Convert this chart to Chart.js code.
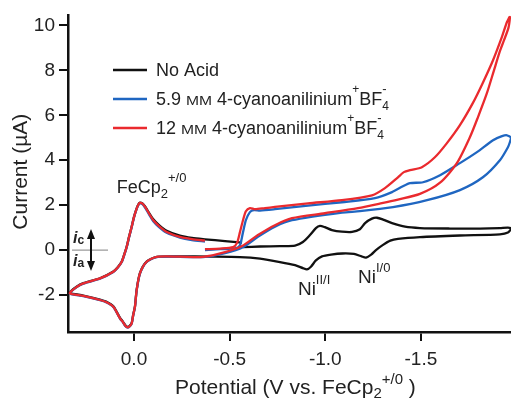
<!DOCTYPE html>
<html><head><meta charset="utf-8">
<script src="https://cdn.jsdelivr.net/npm/chart.js@4.4.1/dist/chart.umd.min.js"></script>
<style>html,body{margin:0;padding:0;background:#fff;}canvas{display:block;}</style>
</head><body>
<canvas id="c" width="511" height="399"></canvas>
<script>
// ---- data (potential in V vs FeCp2+/0, current in µA), in scan order ----
const xTicks = [0, -0.5, -1.0, -1.5];
const yTicks = [-2, 0, 2, 4, 6, 8, 10];
const seriesNames = ["No Acid", "5.9 mM 4-cyanoanilinium+BF4-", "12 mM 4-cyanoanilinium+BF4-"];

const noAcidV = [-0.570,-0.659,-0.763,-0.842,-0.883,-0.920,-0.951,-0.972,-0.998,-1.035,-1.087,-1.140,-1.181,-1.208,-1.244,-1.270,-1.302,-1.349,-1.417,-1.495,-1.652,-1.809,-1.913,-1.955,-1.971,
 -1.955,-1.913,-1.704,-1.495,-1.380,-1.340,-1.300,-1.265,-1.240,-1.213,-1.190,-1.150,-1.090,-1.030,-0.983,-0.951,-0.925,-0.904,-0.883,-0.842,-0.763,-0.659,-0.554,-0.397,
 -0.240,-0.119,-0.066,-0.031,-0.014,-0.005,0.005,0.012,0.024,0.033,0.044,0.058,0.073,0.108,0.146,0.178,0.265,0.335,
 0.300,0.265,0.178,0.108,0.084,0.064,0.050,0.038,0.026,0.012,0.0,-0.014,-0.024,-0.031,-0.044,-0.058,-0.078,-0.101,-0.131,-0.171,-0.240,-0.303,-0.371,-0.476,-0.565];
const noAcidI = [0.13,0.16,0.18,0.20,0.36,0.67,0.98,1.08,1.02,0.89,0.82,0.81,0.93,1.20,1.40,1.44,1.36,1.20,1.04,0.98,0.96,0.96,0.98,1.00,0.96,
 0.78,0.70,0.65,0.58,0.50,0.42,0.22,0.00,-0.20,-0.33,-0.28,-0.17,-0.15,-0.20,-0.28,-0.46,-0.74,-0.86,-0.80,-0.67,-0.53,-0.38,-0.31,-0.29,
 -0.28,-0.30,-0.51,-1.02,-1.76,-2.50,-2.91,-3.24,-3.38,-3.42,-3.36,-3.18,-3.02,-2.50,-2.29,-2.20,-2.02,-1.90,
 -1.63,-1.47,-1.25,-0.95,-0.75,-0.51,-0.17,0.16,0.59,1.05,1.48,1.86,2.05,2.11,2.08,1.94,1.67,1.37,1.11,0.86,0.64,0.54,0.48,0.40,0.33];

const acid59V = [-0.371,-0.450,-0.533,-0.554,-0.570,-0.585,-0.606,-0.627,-0.659,-0.737,-0.910,-1.087,-1.260,-1.349,-1.406,-1.443,-1.511,-1.600,-1.704,-1.793,-1.877,-1.924,-1.950,-1.971,
 -1.965,-1.955,-1.913,-1.824,-1.704,-1.532,-1.354,-1.181,-1.087,-0.826,-0.737,-0.648,-0.570,-0.476,
 -0.361,-0.240,-0.119,-0.066,-0.031,-0.014,-0.005,0.005,0.012,0.024,0.033,0.044,0.058,0.073,0.108,0.146,0.178,0.265,0.335,
 0.300,0.265,0.178,0.108,0.084,0.064,0.050,0.038,0.026,0.012,0.0,-0.014,-0.024,-0.031,-0.044,-0.058,-0.078,-0.101,-0.131,-0.171,-0.240,-0.303,-0.371];
const acid59I = [0.00,0.04,0.09,0.22,0.80,1.33,1.69,1.78,1.76,1.82,1.98,2.13,2.31,2.58,2.84,2.98,3.02,3.33,3.87,4.36,4.89,5.07,5.11,5.00,
 4.80,4.58,4.00,3.24,2.67,2.22,1.91,1.73,1.67,1.33,1.04,0.59,0.13,-0.13,
 -0.31,-0.30,-0.31,-0.53,-1.06,-1.80,-2.54,-2.95,-3.27,-3.41,-3.45,-3.39,-3.21,-3.05,-2.53,-2.32,-2.23,-2.05,-1.93,
 -1.65,-1.49,-1.27,-0.97,-0.77,-0.53,-0.20,0.13,0.56,1.02,1.45,1.83,2.02,2.08,2.05,1.89,1.60,1.28,1.02,0.77,0.56,0.45,0.38];

const acid12V = [-0.371,-0.450,-0.518,-0.538,-0.554,-0.570,-0.585,-0.606,-0.633,-0.685,-0.737,-0.910,-1.087,-1.244,-1.312,-1.380,-1.411,-1.443,-1.505,-1.573,-1.636,-1.704,-1.772,-1.824,-1.877,-1.924,-1.950,-1.965,
 -1.958,-1.934,-1.913,-1.882,-1.845,-1.798,-1.756,-1.688,-1.600,-1.495,-1.380,-1.296,-1.171,-0.998,-0.826,-0.737,-0.648,-0.565,-0.476,
 -0.361,-0.240,-0.119,-0.066,-0.031,-0.014,-0.005,0.005,0.012,0.024,0.033,0.044,0.058,0.073,0.108,0.146,0.178,0.265,0.335,
 0.300,0.265,0.178,0.108,0.084,0.064,0.050,0.038,0.026,0.012,0.0,-0.014,-0.024,-0.031,-0.044,-0.058,-0.078,-0.101,-0.131,-0.171,-0.240,-0.303,-0.371];
const acid12I = [0.04,0.07,0.13,0.31,0.80,1.33,1.73,1.87,1.82,1.87,1.92,2.08,2.22,2.44,2.76,3.24,3.47,3.56,3.69,4.13,4.76,5.56,6.55,7.45,8.45,9.50,10.15,10.38,
 9.90,9.33,8.85,8.00,6.98,5.91,5.02,3.87,3.00,2.50,2.25,2.09,1.87,1.64,1.42,1.11,0.67,0.18,-0.09,
 -0.30,-0.29,-0.30,-0.52,-1.04,-1.78,-2.52,-2.93,-3.26,-3.40,-3.44,-3.38,-3.20,-3.04,-2.52,-2.31,-2.22,-2.04,-1.92,
 -1.64,-1.48,-1.26,-0.96,-0.76,-0.52,-0.18,0.15,0.58,1.04,1.47,1.85,2.04,2.10,2.07,1.92,1.64,1.33,1.07,0.81,0.59,0.49,0.42];

const colors = ['#111111', '#1f66c1', '#ea2a2e'];
const FONT = '"Liberation Sans", Arial, Helvetica, sans-serif';
const TXT = '#222222';

const toPts = (V, I) => V.map((v, k) => ({x: v, y: I[k]}));
const series = [toPts(noAcidV, noAcidI), toPts(acid59V, acid59I), toPts(acid12V, acid12I)];

function f(size, style) { return (style || '') + ' ' + size + 'px ' + FONT; }
function drawRuns(ctx, x, y, runs) {
  ctx.textAlign = 'left'; ctx.textBaseline = 'alphabetic';
  for (const r of runs) {
    ctx.font = f(r.s, r.st);
    const w = ctx.measureText(r.t).width * (r.sx || 1);
    ctx.save();
    ctx.translate(x, y + (r.dy || 0));
    if (r.sx) ctx.scale(r.sx, 1);
    ctx.fillText(r.t, 0, 0);
    ctx.restore();
    if (!r.stack) x += w;
  }
  return x;
}
function acidRuns(conc) {
  return [{t: conc + ' ', s: 18}, {t: 'MM', s: 12.5, sx: 1.25}, {t: ' 4-cyanoanilinium', s: 18},
          {t: '+', s: 12, dy: -12}, {t: 'BF', s: 18}, {t: '4', s: 12, dy: 5, stack: true}, {t: '-', s: 13, dy: -12}];
}

const decor = {
  id: 'decor',
  afterDraw(chart) {
    const ctx = chart.ctx, xs = chart.scales.x, ys = chart.scales.y;
    ctx.save();
    // legend
    const legY = [70, 99, 128];
    const legRuns = [[{t: seriesNames[0], s: 18}], acidRuns('5.9'), acidRuns('12')];
    legY.forEach((ly, k) => {
      ctx.strokeStyle = colors[k]; ctx.lineWidth = 2.5;
      ctx.beginPath(); ctx.moveTo(113, ly); ctx.lineTo(147, ly); ctx.stroke();
      ctx.fillStyle = TXT;
      drawRuns(ctx, 156, ly + 5.5, legRuns[k]);
    });
    // peak labels
    ctx.fillStyle = TXT;
    drawRuns(ctx, xs.getPixelForValue(0.090), ys.getPixelForValue(2.53),
      [{t: 'FeCp', s: 18}, {t: '2', s: 13, dy: 5}, {t: '+/0', s: 13, dy: -11}]);
    drawRuns(ctx, xs.getPixelForValue(-0.857), ys.getPixelForValue(-2.0),
      [{t: 'Ni', s: 19}, {t: 'II/I', s: 13, dy: -11}]);
    drawRuns(ctx, xs.getPixelForValue(-1.171), ys.getPixelForValue(-1.47),
      [{t: 'Ni', s: 19}, {t: 'I/0', s: 13, dy: -11}]);
    // ic / ia indicator
    const y0 = ys.getPixelForValue(0);
    ctx.strokeStyle = '#808080'; ctx.lineWidth = 1;
    ctx.beginPath(); ctx.moveTo(72, y0); ctx.lineTo(108, y0); ctx.stroke();
    ctx.strokeStyle = '#111'; ctx.fillStyle = '#111'; ctx.lineWidth = 2;
    ctx.beginPath(); ctx.moveTo(91, y0 - 14); ctx.lineTo(91, y0 + 14); ctx.stroke();
    ctx.beginPath(); ctx.moveTo(91, y0 - 21); ctx.lineTo(87, y0 - 11); ctx.lineTo(95, y0 - 11); ctx.closePath(); ctx.fill();
    ctx.beginPath(); ctx.moveTo(91, y0 + 21); ctx.lineTo(87, y0 + 11); ctx.lineTo(95, y0 + 11); ctx.closePath(); ctx.fill();
    ctx.fillStyle = TXT;
    drawRuns(ctx, 73, y0 - 7, [{t: 'i', s: 16, st: 'italic bold'}, {t: 'c', s: 12, st: 'bold', dy: 1}]);
    drawRuns(ctx, 73, y0 + 16, [{t: 'i', s: 16, st: 'italic bold'}, {t: 'a', s: 12, st: 'bold', dy: 1}]);
    // axis titles
    ctx.fillStyle = TXT;
    ctx.save();
    ctx.translate(27, (chart.chartArea.top + chart.chartArea.bottom) / 2 - 2);
    ctx.rotate(-Math.PI / 2);
    ctx.font = f(21); ctx.textAlign = 'center'; ctx.textBaseline = 'alphabetic';
    ctx.fillText('Current (µA)', 0, 0);
    ctx.restore();
    drawRuns(ctx, 175, 394, [{t: 'Potential (V vs. FeCp', s: 21}, {t: '2', s: 15, dy: 4}, {t: '+/0', s: 15, dy: -10}, {t: ' )', s: 21}]);
    ctx.restore();
  }
};

const datasets = series.map((pts, k) => ({
  label: seriesNames[k], data: pts, showLine: true, borderColor: colors[k],
  borderWidth: 2.3, pointRadius: 0, tension: 0.25, fill: false, order: 3 - k
}));

new Chart(document.getElementById('c'), {
  type: 'scatter',
  data: {datasets},
  options: {
    responsive: false, animation: false, devicePixelRatio: 1,
    layout: {padding: {top: 15, left: 0, right: 0, bottom: 0}},
    plugins: {legend: {display: false}, tooltip: {enabled: false}},
    scales: {
      x: {
        type: 'linear', reverse: true, min: -1.971, max: 0.345,
        afterFit: s => { s.height = 67; },
        afterBuildTicks: s => { s.ticks = xTicks.map(v => ({value: v})); },
        grid: {drawOnChartArea: false, drawTicks: true, tickLength: 9, color: '#111', lineWidth: 2},
        border: {display: true, color: '#111', width: 2.5},
        ticks: {font: {family: FONT, size: 19}, color: TXT, padding: 7, maxRotation: 0,
                callback: v => Number(v).toFixed(1)}
      },
      y: {
        type: 'linear', min: -3.644, max: 10.444,
        afterFit: s => { s.width = 68; },
        afterBuildTicks: s => { s.ticks = yTicks.map(v => ({value: v})); },
        grid: {drawOnChartArea: false, drawTicks: true, tickLength: 9, color: '#111', lineWidth: 2},
        border: {display: true, color: '#111', width: 2.5},
        ticks: {font: {family: FONT, size: 19}, color: TXT, padding: 4, callback: v => String(v)}
      }
    }
  },
  plugins: [decor]
});
</script>
</body></html>
